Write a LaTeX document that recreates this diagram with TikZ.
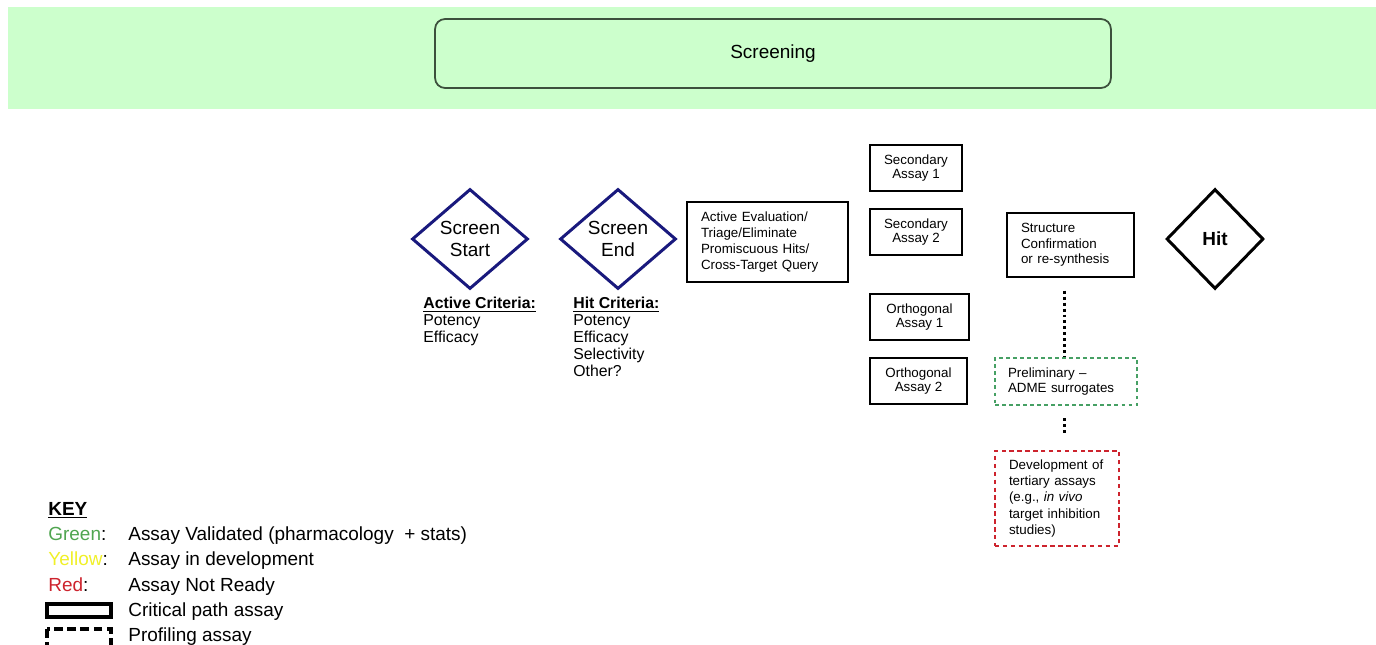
\documentclass[tikz,border=0pt]{standalone}
\usepackage{fontspec}
\setmainfont{Liberation Sans}
\usetikzlibrary{shapes.geometric}
\definecolor{bandgreen}{RGB}{204,255,204}
\definecolor{bandedge}{RGB}{60,80,60}
\definecolor{gatenavy}{RGB}{25,25,125}
\definecolor{okgreen}{RGB}{70,160,100}
\definecolor{keygreen}{RGB}{80,165,80}
\definecolor{keyyellow}{RGB}{240,240,40}
\definecolor{keyred}{RGB}{205,35,45}

\begin{document}
\begin{tikzpicture}[x=0.02cm, y=-0.02cm,
    gate/.style={diamond, draw=gatenavy, line width=1.7pt, inner sep=0pt, minimum width=2.32cm, minimum height=2cm, align=center, font=\fontsize{10.8}{12.5}\selectfont},
    assay/.style={draw, line width=0.7pt, inner sep=0pt, minimum height=0.92cm, align=center, font=\fontsize{7.6}{8.2}\selectfont},
    stepbox/.style={draw, line width=0.7pt, inner ysep=0pt, inner xsep=0.28cm, align=left, font=\fontsize{7.6}{9}\selectfont},
    link/.style={line width=1.7pt, dash pattern=on 1.7pt off 1.7pt},
    crit/.style={anchor=north west, inner sep=0pt, align=left, font=\fontsize{9}{9.6}\selectfont},
    keytext/.style={anchor=base west, inner sep=0pt, font=\fontsize{10.8}{12}\selectfont}]
  \clip (0,0) rectangle (1376,645);
  \fill[bandgreen] (8,7) rectangle (1376,109);
  \node[draw=bandedge, line width=1pt, rounded corners=0.2cm, minimum width=13.52cm, minimum height=1.38cm, font=\fontsize{10.8}{12}\selectfont] (screening) at (773,53.5) {Screening};

  \node[gate] (start) at (470,239) {Screen\\Start};
  \node[gate] (end) at (618,239) {Screen\\End};
  \node[crit] (activecrit) at (423,297) {\underline{\textbf{Active Criteria:}}\\Potency\\Efficacy};
  \node[crit] (hitcrit) at (573,297) {\underline{\textbf{Hit Criteria:}}\\Potency\\Efficacy\\Selectivity\\Other?};

  \node[stepbox, text width=2.66cm, minimum height=1.6cm] (triage) at (767.5,242) {Active Evaluation/\\Triage/Eliminate\\Promiscuous Hits/\\Cross-Target Query};

  \node[assay, minimum width=1.84cm] (sec1) at (916,168) {Secondary\\Assay 1};
  \node[assay, minimum width=1.84cm] (sec2) at (916,232) {Secondary\\Assay 2};
  \node[assay, minimum width=1.98cm] (orth1) at (919.5,317) {Orthogonal\\Assay 1};
  \node[assay, minimum width=1.94cm] (orth2) at (918.5,381) {Orthogonal\\Assay 2};

  \node[stepbox, text width=1.98cm, minimum height=1.28cm, font=\fontsize{7.6}{8.8}\selectfont] (struct) at (1070.5,245) {Structure\\Confirmation\\or re-synthesis};
  \node[stepbox, draw=okgreen, line width=1.6pt, dash pattern=on 2.2pt off 1.8pt, inner xsep=0.26cm, text width=2.32cm, minimum height=0.94cm] (prelim) at (1066,381.5) {Preliminary --\\ADME surrogates};
  \node[stepbox, draw=keyred, line width=1.6pt, dash pattern=on 2.5pt off 2pt, text width=1.92cm, minimum height=1.9cm, font=\fontsize{7.6}{9.2}\selectfont] (tertiary) at (1057,498.5) {Development of\\tertiary assays\\(e.g., \textit{in vivo}\\target inhibition\\studies)};

  \node[gate, draw=black, minimum width=1.94cm, font=\bfseries\fontsize{10.8}{12.5}\selectfont] (hit) at (1215,239) {Hit};

  \coordinate (dotcol) at (1064,0);
  \draw[link, shorten <=0.26cm] (struct.south -| dotcol) -- (prelim.north -| dotcol);
  \draw[link, shorten <=0.24cm, shorten >=0.28cm] (prelim.south -| dotcol) -- (tertiary.north -| dotcol);

  \node[keytext, font=\bfseries\fontsize{10.8}{12}\selectfont] (key) at (48,515) {\underline{KEY}};
  \node[keytext] (greenlabel) at (48,540) {\textcolor{keygreen}{Green}:};
  \node[keytext] (greentext) at (128,540) {Assay Validated (pharmacology \ + stats)};
  \node[keytext] (yellowlabel) at (48,565) {\textcolor{keyyellow}{Yellow}:};
  \node[keytext] (yellowtext) at (128,565) {Assay in development};
  \node[keytext] (redlabel) at (48,591) {\textcolor{keyred}{Red}:};
  \node[keytext] (redtext) at (128,591) {Assay Not Ready};
  \draw[line width=2.2pt] (47,604) rectangle (111,617);
  \node[keytext] (crittext) at (128,616) {Critical path assay};
  \draw[line width=2.2pt, dash pattern=on 5pt off 2.5pt] (47,629) rectangle (111,652);
  \node[keytext] (proftext) at (128,641) {Profiling assay};
\end{tikzpicture}
\end{document}
